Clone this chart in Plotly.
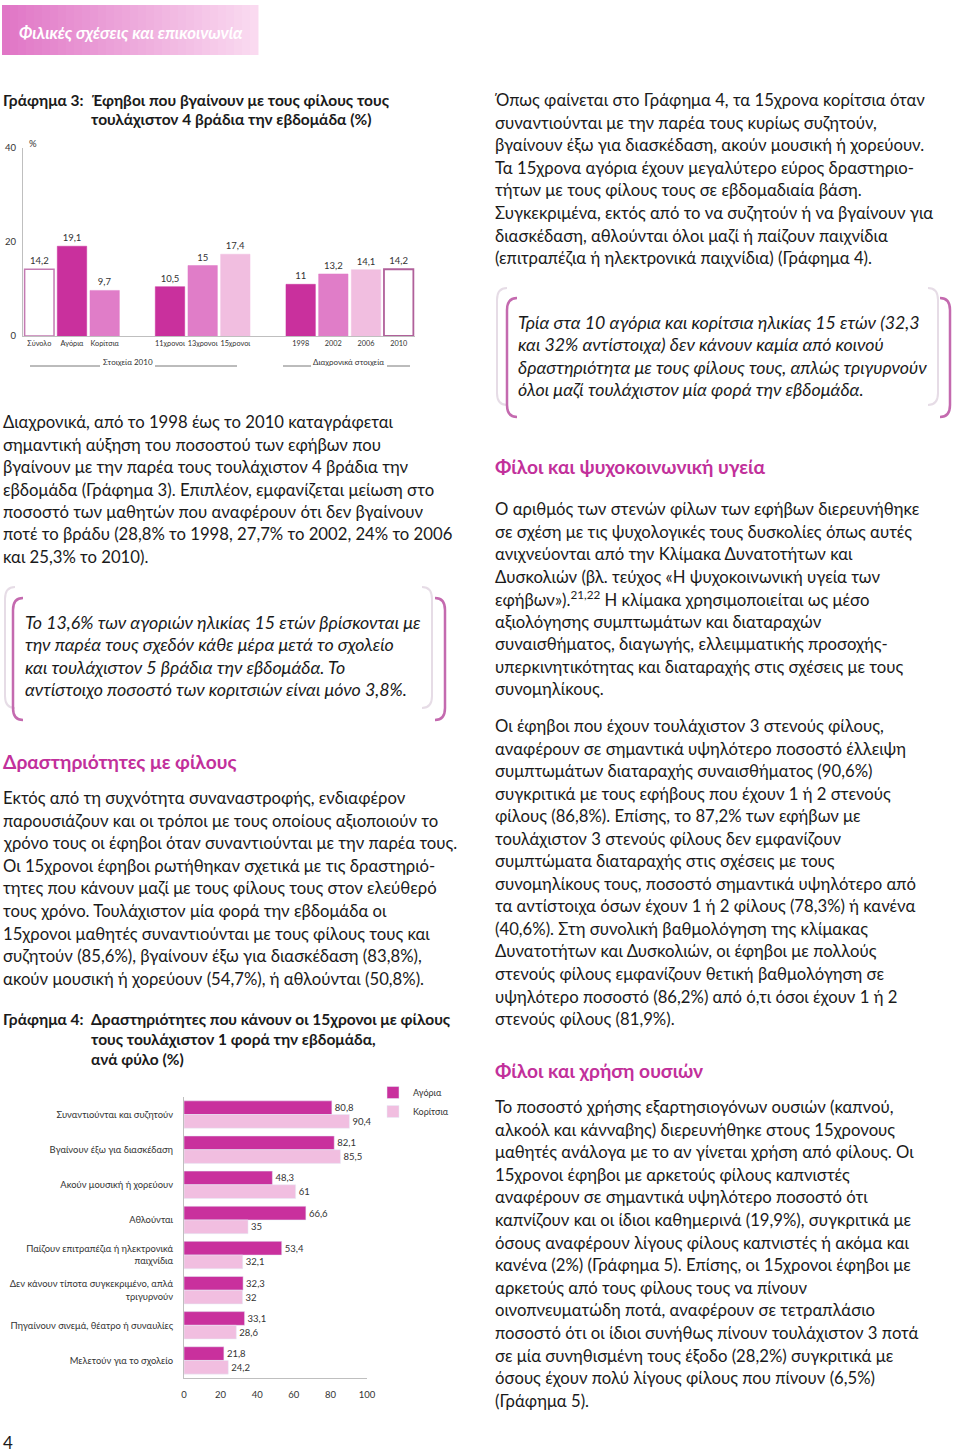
import plotly.graph_objects as go

W, H = 960, 1453
FONT = "Lato, Noto Sans, sans-serif"
TXT = "#1a1a1a"
PINK_HEAD = "#C2309B"
DARK = "#C9309D"
MID = "#E07DC8"
LIGHT = "#F1BEE0"

# ---- Γράφημα 3 data ----
cat_2010_sex = ["Σύνολο", "Αγόρια", "Κορίτσια"]
val_2010_sex = [14.2, 19.1, 9.7]
cat_2010_age = ["11χρονοι", "13χρονοι", "15χρονοι"]
val_2010_age = [10.5, 15, 17.4]
cat_years = ["1998", "2002", "2006", "2010"]
val_years = [11, 13.2, 14.1, 14.2]

# ---- Γράφημα 4 data ----
activities = [
    "Συναντιούνται και συζητούν",
    "Βγαίνουν έξω για διασκέδαση",
    "Ακούν μουσική ή χορεύουν",
    "Αθλούνται",
    "Παίζουν επιτραπέζια ή ηλεκτρονικά<br>παιχνίδια",
    "Δεν κάνουν τίποτα συγκεκριμένο, απλά<br>τριγυρνούν",
    "Πηγαίνουν σινεμά, θέατρο ή συναυλίες",
    "Μελετούν για το σχολείο",
]
boys = [80.8, 82.1, 48.3, 66.6, 53.4, 32.3, 33.1, 21.8]
girls = [90.4, 85.5, 61, 35, 32.1, 32, 28.6, 24.2]


def px(x):
    return x / W


def py(y):
    return 1 - y / H


def fmt(v):
    return f"{v:g}".replace(".", ",")


fig = go.Figure()

# chart 3: three groups, blank slots between them
x3 = cat_2010_sex + cat_2010_age + cat_years
v3 = val_2010_sex + val_2010_age + val_years
slots3 = cat_2010_sex + [" "] + cat_2010_age + ["  "] + cat_years
fill3 = ["white", DARK, MID, DARK, MID, LIGHT, DARK, MID, LIGHT, "white"]
line3 = ["#C47AB2", DARK, MID, DARK, MID, LIGHT, DARK, MID, LIGHT, "#B0609A"]
lw3 = [1.5, 0.5, 0.5, 0.5, 0.5, 0.5, 0.5, 0.5, 0.5, 1.8]

fig.add_trace(go.Bar(
    x=x3, y=v3, width=0.9,
    marker=dict(color=fill3, line=dict(color=line3, width=lw3)),
    text=[fmt(v) for v in v3],
    textposition="outside", cliponaxis=False,
    textfont=dict(size=9.5, color="#333", family=FONT),
    xaxis="x", yaxis="y", showlegend=False, hoverinfo="skip",
))

# chart 4
fig.add_trace(go.Bar(
    y=activities, x=boys, orientation="h", name="Αγόρια",
    marker=dict(color=DARK), text=[fmt(v) for v in boys],
    textposition="outside", cliponaxis=False,
    textfont=dict(size=9.5, color="#333", family=FONT),
    xaxis="x2", yaxis="y2",
))
fig.add_trace(go.Bar(
    y=activities, x=girls, orientation="h", name="Κορίτσια",
    marker=dict(color=LIGHT), text=[fmt(v) for v in girls],
    textposition="outside", cliponaxis=False,
    textfont=dict(size=9.5, color="#333", family=FONT),
    xaxis="x2", yaxis="y2",
))

ann = []
shapes = []
BODY = 16.7


def text(x, y, s, size=BODY, color=TXT, anchor="left"):
    ann.append(dict(x=px(x), y=py(y), xref="paper", yref="paper", text=s,
                    showarrow=False, xanchor=anchor, yanchor="middle",
                    borderpad=0, font=dict(size=size, color=color, family=FONT)))


def para(x, y0, lines, step=22.6, size=BODY, italic=False):
    for i, s in enumerate(lines):
        text(x, y0 + i * step, f"<i>{s}</i>" if italic else s, size=size)


def bracket(x, y0, y1, depth, color, width):
    r = 12
    p = (f"M {px(x + depth)} {py(y0)} Q {px(x)} {py(y0)} {px(x)} {py(y0 + r)} "
         f"L {px(x)} {py(y1 - r)} Q {px(x)} {py(y1)} {px(x + depth)} {py(y1)}")
    shapes.append(dict(type="path", path=p, xref="paper", yref="paper",
                       line=dict(color=color, width=width)))


# header band with gradient
n = 32
c0, c1 = (224, 118, 198), (250, 218, 240)
for i in range(n):
    t = i / (n - 1)
    c = tuple(round(a + (b - a) * t) for a, b in zip(c0, c1))
    shapes.append(dict(type="rect", xref="paper", yref="paper",
                       x0=px(2 + 256 * i / n), x1=px(2 + 256 * (i + 1) / n + 0.5),
                       y0=py(55), y1=py(5), line=dict(width=0),
                       fillcolor=f"rgb{c}"))
text(18, 32, "<b><i>Φιλικές σχέσεις και επικοινωνία</i></b>", size=16.8, color="white")

# chart titles
TSZ = 15.5
text(2, 100, "<b>Γράφημα 3:</b>", size=TSZ)
text(90, 100, "<b>Έφηβοι που βγαίνουν με τους φίλους τους</b>", size=TSZ)
text(90, 119, "<b>τουλάχιστον 4 βράδια την εβδομάδα (%)</b>", size=TSZ)
text(28, 143, "%", size=9.5, color="#333")

# group labels chart 3
text(128, 362, "Στοιχεία 2010", size=8, color="#333", anchor="center")
text(348, 362, "Διαχρονικά στοιχεία", size=8, color="#333", anchor="center")
for a, b in [(30, 100), (155, 237), (283, 311), (387, 410)]:
    shapes.append(dict(type="line", xref="paper", yref="paper",
                       x0=px(a), x1=px(b), y0=py(366), y1=py(366),
                       line=dict(color="#555", width=0.8)))

para(2, 422, [
    "Διαχρονικά, από το 1998 έως το 2010 καταγράφεται",
    "σημαντική αύξηση του ποσοστού των εφήβων που",
    "βγαίνουν με την παρέα τους τουλάχιστον 4 βράδια την",
    "εβδομάδα (Γράφημα 3). Επιπλέον, εμφανίζεται μείωση στο",
    "ποσοστό των μαθητών που αναφέρουν ότι δεν βγαίνουν",
    "ποτέ το βράδυ (28,8% το 1998, 27,7% το 2002, 24% το 2006",
    "και 25,3% το 2010).",
], step=22.5)

bracket(5, 587, 708, 10, "#E6DCE6", 2)
bracket(13, 598, 720, 10, "#C46AAF", 2.5)
bracket(432, 587, 708, -10, "#E6DCE6", 2)
bracket(445, 598, 720, -10, "#C46AAF", 2.5)
ISZ = 17.8
para(24, 622, [
    "Το 13,6% των αγοριών ηλικίας 15 ετών βρίσκονται με",
    "την παρέα τους σχεδόν κάθε μέρα μετά το σχολείο",
    "και τουλάχιστον 5 βράδια την εβδομάδα. Το",
    "αντίστοιχο ποσοστό των κοριτσιών είναι μόνο 3,8%.",
], step=22.4, size=ISZ, italic=True)

HSZ = 19.2
text(2, 761, "<b>Δραστηριότητες με φίλους</b>", size=HSZ, color=PINK_HEAD)
para(2, 798, [
    "Εκτός από τη συχνότητα συναναστροφής, ενδιαφέρον",
    "παρουσιάζουν και οι τρόποι με τους οποίους αξιοποιούν το",
    "χρόνο τους οι έφηβοι όταν συναντιούνται με την παρέα τους.",
    "Οι 15χρονοι έφηβοι ρωτήθηκαν σχετικά με τις δραστηριό-",
    "τητες που κάνουν μαζί με τους φίλους τους στον ελεύθερό",
    "τους χρόνο. Τουλάχιστον μία φορά την εβδομάδα οι",
    "15χρονοι μαθητές συναντιούνται με τους φίλους τους και",
    "συζητούν (85,6%), βγαίνουν έξω για διασκέδαση (83,8%),",
    "ακούν μουσική ή χορεύουν (54,7%), ή αθλούνται (50,8%).",
])

text(2, 1019, "<b>Γράφημα 4:</b>", size=TSZ)
text(90, 1019, "<b>Δραστηριότητες που κάνουν οι 15χρονοι με φίλους</b>", size=TSZ)
text(90, 1039, "<b>τους τουλάχιστον 1 φορά την εβδομάδα,</b>", size=TSZ)
text(90, 1059, "<b>ανά φύλο (%)</b>", size=TSZ)

text(2, 1442, "4", size=17)

# right column
para(494, 100, [
    "Όπως φαίνεται στο Γράφημα 4, τα 15χρονα κορίτσια όταν",
    "συναντιούνται με την παρέα τους κυρίως συζητούν,",
    "βγαίνουν έξω για διασκέδαση, ακούν μουσική ή χορεύουν.",
    "Τα 15χρονα αγόρια έχουν μεγαλύτερο εύρος δραστηριο-",
    "τήτων με τους φίλους τους σε εβδομαδιαία βάση.",
    "Συγκεκριμένα, εκτός από το να συζητούν ή να βγαίνουν για",
    "διασκέδαση, αθλούνται όλοι μαζί ή παίζουν παιχνίδια",
    "(επιτραπέζια ή ηλεκτρονικά παιχνίδια) (Γράφημα 4).",
])

bracket(497, 288, 405, 10, "#E6DCE6", 2)
bracket(507, 298, 417, 10, "#C46AAF", 2.5)
bracket(938, 288, 405, -10, "#E6DCE6", 2)
bracket(950, 298, 417, -10, "#C46AAF", 2.5)
para(517, 322, [
    "Τρία στα 10 αγόρια και κορίτσια ηλικίας 15 ετών (32,3",
    "και 32% αντίστοιχα) δεν κάνουν καμία από κοινού",
    "δραστηριότητα με τους φίλους τους, απλώς τριγυρνούν",
    "όλοι μαζί τουλάχιστον μία φορά την εβδομάδα.",
], step=22.4, size=ISZ, italic=True)

text(494, 467, "<b>Φίλοι και ψυχοκοινωνική υγεία</b>", size=HSZ, color=PINK_HEAD)
para(494, 509, [
    "Ο αριθμός των στενών φίλων των εφήβων διερευνήθηκε",
    "σε σχέση με τις ψυχολογικές τους δυσκολίες όπως αυτές",
    "ανιχνεύονται από την Κλίμακα Δυνατοτήτων και",
    "Δυσκολιών (βλ. τεύχος «Η ψυχοκοινωνική υγεία των",
    "εφήβων»).<sup>21,22</sup> Η κλίμακα χρησιμοποιείται ως μέσο",
    "αξιολόγησης συμπτωμάτων και διαταραχών",
    "συναισθήματος, διαγωγής, ελλειμματικής προσοχής-",
    "υπερκινητικότητας και διαταραχής στις σχέσεις με τους",
    "συνομηλίκους.",
], step=22.5)

para(494, 726, [
    "Οι έφηβοι που έχουν τουλάχιστον 3 στενούς φίλους,",
    "αναφέρουν σε σημαντικά υψηλότερο ποσοστό έλλειψη",
    "συμπτωμάτων διαταραχής συναισθήματος (90,6%)",
    "συγκριτικά με τους εφήβους που έχουν 1 ή 2 στενούς",
    "φίλους (86,8%). Επίσης, το 87,2% των εφήβων με",
    "τουλάχιστον 3 στενούς φίλους δεν εμφανίζουν",
    "συμπτώματα διαταραχής στις σχέσεις με τους",
    "συνομηλίκους τους, ποσοστό σημαντικά υψηλότερο από",
    "τα αντίστοιχα όσων έχουν 1 ή 2 φίλους (78,3%) ή κανένα",
    "(40,6%). Στη συνολική βαθμολόγηση της κλίμακας",
    "Δυνατοτήτων και Δυσκολιών, οι έφηβοι με πολλούς",
    "στενούς φίλους εμφανίζουν θετική βαθμολόγηση σε",
    "υψηλότερο ποσοστό (86,2%) από ό,τι όσοι έχουν 1 ή 2",
    "στενούς φίλους (81,9%).",
], step=22.55)

text(494, 1070, "<b>Φίλοι και χρήση ουσιών</b>", size=HSZ, color=PINK_HEAD)
para(494, 1107, [
    "Το ποσοστό χρήσης εξαρτησιογόνων ουσιών (καπνού,",
    "αλκοόλ και κάνναβης) διερευνήθηκε στους 15χρονους",
    "μαθητές ανάλογα με το αν γίνεται χρήση από φίλους. Οι",
    "15χρονοι έφηβοι με αρκετούς φίλους καπνιστές",
    "αναφέρουν σε σημαντικά υψηλότερο ποσοστό ότι",
    "καπνίζουν και οι ίδιοι καθημερινά (19,9%), συγκριτικά με",
    "όσους αναφέρουν λίγους φίλους καπνιστές ή ακόμα και",
    "κανένα (2%) (Γράφημα 5). Επίσης, οι 15χρονοι έφηβοι με",
    "αρκετούς από τους φίλους τους να πίνουν",
    "οινοπνευματώδη ποτά, αναφέρουν σε τετραπλάσιο",
    "ποσοστό ότι οι ίδιοι συνήθως πίνουν τουλάχιστον 3 ποτά",
    "σε μία συνηθισμένη τους έξοδο (28,2%) συγκριτικά με",
    "όσους έχουν πολύ λίγους φίλους που πίνουν (6,5%)",
    "(Γράφημα 5).",
], step=22.6)

axis_line = "#BFBFBF"
fig.update_layout(
    width=W, height=H, autosize=False,
    margin=dict(l=0, r=0, t=0, b=0, pad=0, autoexpand=False),
    paper_bgcolor="white", plot_bgcolor="white",
    font=dict(family=FONT, color=TXT),
    barmode="group", bargap=0.22, bargroupgap=0,
    xaxis=dict(domain=[px(23), px(415)], anchor="y", automargin=False,
               categoryorder="array", categoryarray=slots3,
               tickmode="array", tickvals=x3, tickangle=0,
               range=[-0.5, 11.5], showline=True, linecolor=axis_line,
               ticks="", tickfont=dict(size=7.3, color="#333"),
               showgrid=False, fixedrange=True),
    yaxis=dict(domain=[py(336), py(148)], anchor="x", range=[0, 40],
               automargin=False,
               tickvals=[0, 20, 40], showline=True, linecolor=axis_line,
               showgrid=False, zeroline=False, ticks="",
               tickfont=dict(size=9.5, color="#333"), ticklabelstandoff=4),
    xaxis2=dict(domain=[px(184), px(367)], anchor="y2", range=[0, 100],
                automargin=False,
                dtick=20, showline=True, linecolor=axis_line, showgrid=False,
                zeroline=False, ticks="", tickfont=dict(size=9.5, color="#333"),
                ticklabelstandoff=8),
    yaxis2=dict(domain=[py(1378), py(1097)], anchor="x2", automargin=False,
                categoryorder="array", categoryarray=activities,
                autorange="reversed", showline=True, linecolor=axis_line,
                ticks="", tickfont=dict(size=9.4, color="#333"),
                ticklabelstandoff=8),
    legend=dict(x=px(373), y=py(1078), xanchor="left", yanchor="top",
                font=dict(size=9, color="#333"), tracegroupgap=0,
                itemwidth=30, bgcolor="rgba(0,0,0,0)"),
    annotations=ann, shapes=shapes,
)

# pin the graph to the top-left corner of the window
fig.write_html(
    "out.html",
    config={"displayModeBar": False},
    post_script=("document.documentElement.style.margin='0px';"
                 "document.body.style.margin='0px';"
                 "var g=document.getElementsByClassName('plotly-graph-div')[0];"
                 "g.style.position='fixed';g.style.top='0px';g.style.left='0px';"),
)
